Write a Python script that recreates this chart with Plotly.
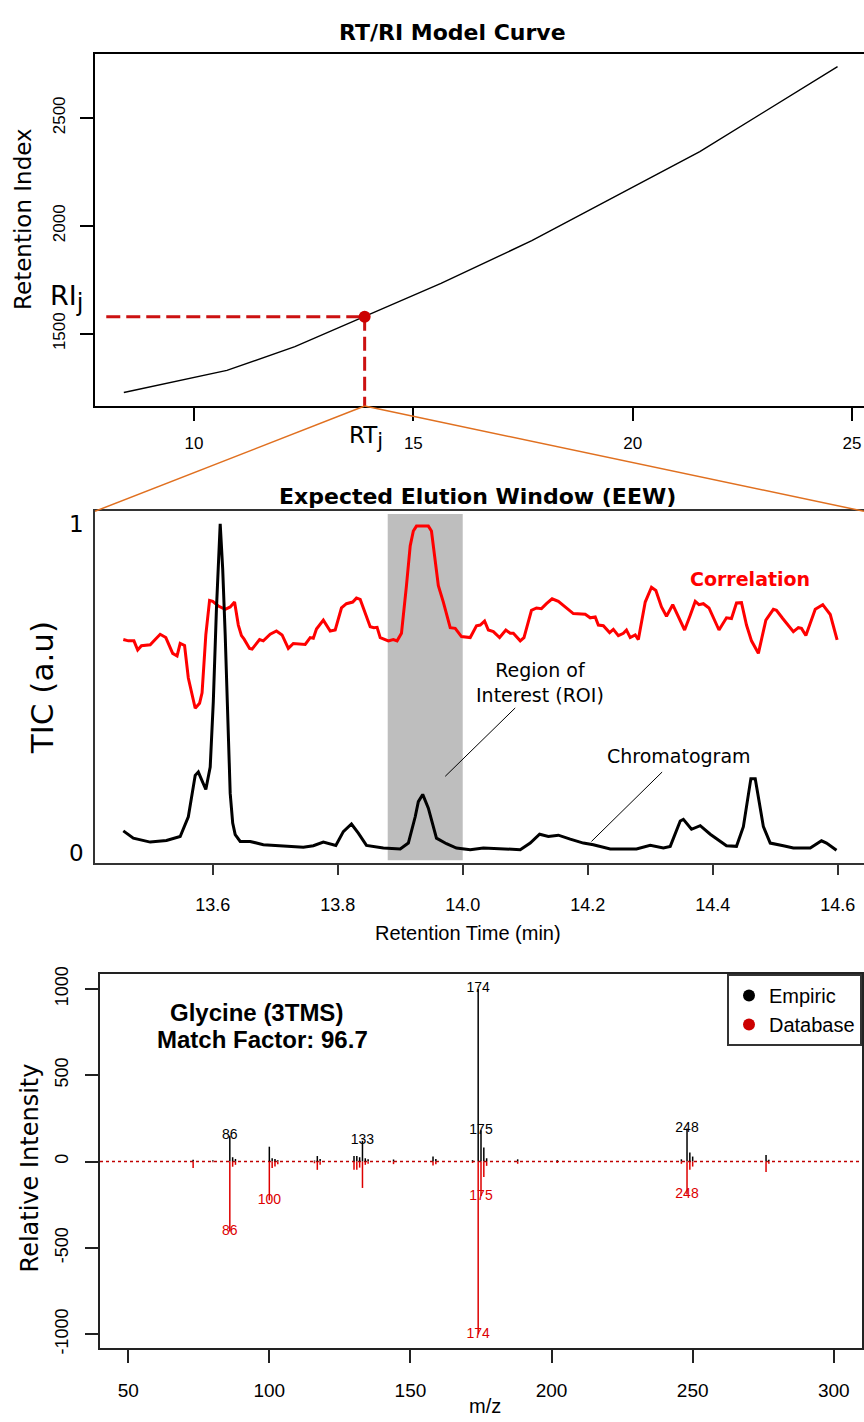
import plotly.graph_objects as go

W, H = 864, 1422

# ---------------- RT/RI model curve ----------------
rt_model = [8.40, 10.75, 12.30, 13.89, 15.63, 17.70, 19.77, 21.53, 24.67]
ri_model = [1228, 1330, 1440, 1579, 1733, 1931, 2153, 2344, 2737]
rt_j = 13.89
ri_j = 1579

# ---------------- Expected elution window ----------------
tic_time = [
    13.457, 13.473, 13.500, 13.526, 13.548, 13.561, 13.572, 13.577, 13.589, 13.596,
    13.601, 13.606, 13.612, 13.616, 13.620, 13.624, 13.628, 13.632, 13.636, 13.644,
    13.660, 13.681, 13.713, 13.745, 13.761, 13.777, 13.797, 13.809, 13.822, 13.833,
    13.846, 13.873, 13.900, 13.913, 13.924, 13.929, 13.936, 13.945, 13.958, 13.974,
    13.990, 14.012, 14.033, 14.060, 14.092, 14.108, 14.123, 14.137, 14.153, 14.172,
    14.193, 14.209, 14.236, 14.278, 14.300, 14.321, 14.332, 14.348, 14.353, 14.366,
    14.380, 14.396, 14.422, 14.438, 14.449, 14.461, 14.468, 14.481, 14.492, 14.513,
    14.529, 14.556, 14.574, 14.582, 14.598,
]
tic_value = [
    0.066, 0.044, 0.032, 0.037, 0.049, 0.109, 0.235, 0.245, 0.192, 0.260,
    0.460, 0.742, 1.000, 0.862, 0.662, 0.450, 0.180, 0.090, 0.055, 0.034,
    0.034, 0.024, 0.021, 0.016, 0.021, 0.032, 0.022, 0.064, 0.087, 0.059,
    0.022, 0.014, 0.011, 0.029, 0.109, 0.155, 0.177, 0.135, 0.044, 0.027,
    0.014, 0.009, 0.014, 0.011, 0.009, 0.029, 0.056, 0.049, 0.053, 0.041,
    0.029, 0.024, 0.011, 0.011, 0.022, 0.014, 0.019, 0.096, 0.101, 0.071,
    0.082, 0.056, 0.021, 0.019, 0.079, 0.225, 0.225, 0.079, 0.029, 0.021,
    0.014, 0.014, 0.036, 0.029, 0.007,
]
corr_time = [
    13.457, 13.465, 13.474, 13.480, 13.486, 13.500, 13.508, 13.516, 13.525, 13.536,
    13.543, 13.548, 13.555, 13.561, 13.572, 13.579, 13.583, 13.589, 13.595, 13.600,
    13.609, 13.620, 13.628, 13.635, 13.641, 13.646, 13.650, 13.659, 13.663, 13.675,
    13.681, 13.692, 13.702, 13.711, 13.721, 13.729, 13.748, 13.756, 13.761, 13.766,
    13.777, 13.788, 13.796, 13.806, 13.814, 13.824, 13.830, 13.836, 13.852, 13.858,
    13.863, 13.868, 13.881, 13.889, 13.895, 13.902, 13.910, 13.916, 13.921, 13.926,
    13.945, 13.950, 13.961, 13.969, 13.980, 13.988, 13.998, 14.012, 14.022, 14.028,
    14.035, 14.041, 14.049, 14.059, 14.069, 14.076, 14.081, 14.092, 14.098, 14.110,
    14.118, 14.126, 14.134, 14.143, 14.153, 14.164, 14.177, 14.196, 14.204, 14.212,
    14.217, 14.225, 14.235, 14.241, 14.249, 14.257, 14.262, 14.268, 14.276, 14.281,
    14.292, 14.302, 14.309, 14.318, 14.326, 14.336, 14.345, 14.355, 14.364, 14.372,
    14.378, 14.385, 14.394, 14.403, 14.410, 14.422, 14.430, 14.438, 14.446, 14.454,
    14.462, 14.473, 14.485, 14.497, 14.502, 14.512, 14.529, 14.537, 14.542, 14.549,
    14.564, 14.576, 14.588, 14.599,
]
corr_value = [
    0.648, 0.644, 0.644, 0.616, 0.629, 0.632, 0.648, 0.664, 0.654, 0.606,
    0.598, 0.636, 0.630, 0.531, 0.439, 0.454, 0.486, 0.662, 0.767, 0.764,
    0.750, 0.740, 0.747, 0.762, 0.692, 0.660, 0.650, 0.621, 0.619, 0.648,
    0.644, 0.664, 0.674, 0.662, 0.621, 0.636, 0.633, 0.654, 0.652, 0.680,
    0.707, 0.674, 0.677, 0.744, 0.757, 0.762, 0.774, 0.770, 0.687, 0.684,
    0.685, 0.654, 0.644, 0.648, 0.644, 0.667, 0.812, 0.933, 0.978, 0.993,
    0.993, 0.978, 0.812, 0.762, 0.684, 0.682, 0.657, 0.654, 0.690, 0.692,
    0.704, 0.677, 0.672, 0.654, 0.677, 0.667, 0.667, 0.644, 0.654, 0.737,
    0.744, 0.742, 0.757, 0.772, 0.764, 0.747, 0.727, 0.725, 0.714, 0.717,
    0.692, 0.690, 0.669, 0.679, 0.660, 0.667, 0.677, 0.654, 0.662, 0.648,
    0.762, 0.807, 0.797, 0.747, 0.719, 0.754, 0.717, 0.677, 0.722, 0.764,
    0.754, 0.757, 0.744, 0.707, 0.677, 0.714, 0.712, 0.759, 0.760, 0.692,
    0.644, 0.606, 0.707, 0.740, 0.737, 0.712, 0.672, 0.684, 0.682, 0.660,
    0.740, 0.754, 0.724, 0.647,
]
roi_start, roi_end = 13.88, 14.00
eew_ticks = [13.6, 13.8, 14.0, 14.2, 14.4, 14.6]

# ---------------- Mass spectrum (empiric vs database) ----------------
mz = [73, 80, 86, 87, 88, 100, 101, 102, 103, 116, 117, 118, 130, 131, 132, 133, 134,
      135, 144, 158, 159, 172, 174, 175, 176, 177, 188, 202, 246, 248, 249, 250, 276, 277]
empiric = [10, 8, 149, 25, 15, 86, 19, 15, 8, 6, 32, 15, 32, 32, 25, 120, 19,
           13, 12, 29, 15, 8, 1000, 182, 82, 19, 13, 8, 13, 191, 52, 29, 38, 10]
database = [38, 4, 405, 30, 19, 225, 38, 29, 15, 10, 48, 19, 48, 48, 35, 153, 19,
            13, 15, 23, 15, 8, 1000, 200, 90, 25, 13, 8, 13, 191, 48, 29, 61, 13]
compound = "Glycine (3TMS)"
match_factor = 96.7
n_labels = 5

# ---------------- geometry (pixels) ----------------
def fx(p):
    return p / W

def fy(p):
    return 1 - p / H

RS = "Liberation Sans, Arial, Helvetica, sans-serif"
DV = "DejaVu Sans, Verdana, sans-serif"

top_xr, top_yr = [7.743, 25.273], [1165, 2798]
top_dx, top_dy = [fx(95), 1.0], [fy(402), fy(46)]
mid_xr, mid_yr = [13.4117, 14.642], [-0.031, 1.038]
mid_dx, mid_dy = [fx(95), 1.0], [fy(863.3), fy(508.3)]
bot_xr, bot_yr = [40, 310], [-1080, 1086]
bot_dx, bot_dy = [fx(100), fx(862)], [fy(1353.3), fy(975.7)]

fig = go.Figure()

# Top panel: model curve
fig.add_trace(go.Scatter(x=rt_model, y=ri_model, mode="lines",
                         line=dict(color="black", width=1.4),
                         xaxis="x", yaxis="y", showlegend=False))
fig.add_trace(go.Scatter(x=[8.0, rt_j], y=[ri_j, ri_j], mode="lines",
                         line=dict(color="#CC1111", width=3, dash="14px,6px"),
                         xaxis="x", yaxis="y", showlegend=False))
fig.add_trace(go.Scatter(x=[rt_j, rt_j], y=[ri_j, top_yr[0]], mode="lines",
                         line=dict(color="#CC1111", width=3, dash="14px,6px"),
                         xaxis="x", yaxis="y", showlegend=False, cliponaxis=False))
fig.add_trace(go.Scatter(x=[rt_j], y=[ri_j], mode="markers",
                         marker=dict(color="#CC0000", size=12),
                         xaxis="x", yaxis="y", showlegend=False))

# Middle panel: correlation and chromatogram
fig.add_trace(go.Scatter(x=corr_time, y=corr_value, mode="lines",
                         line=dict(color="#FF0000", width=3),
                         xaxis="x2", yaxis="y2", showlegend=False))
fig.add_trace(go.Scatter(x=tic_time, y=tic_value, mode="lines",
                         line=dict(color="black", width=3),
                         xaxis="x2", yaxis="y2", showlegend=False))

# Bottom panel: mirrored stick spectrum
fig.add_trace(go.Scatter(x=bot_xr, y=[0, 0], mode="lines",
                         line=dict(color="#C00000", width=1.5, dash="dot"),
                         xaxis="x3", yaxis="y3", showlegend=False))


def sticks(xs, ys):
    sx, sy = [], []
    for xv, yv in zip(xs, ys):
        sx += [xv, xv, None]
        sy += [0, yv, None]
    return sx, sy


ex, ey = sticks(mz, empiric)
dx, dy = sticks(mz, [-v for v in database])
fig.add_trace(go.Scatter(x=ex, y=ey, mode="lines", line=dict(color="black", width=1.5),
                         xaxis="x3", yaxis="y3", showlegend=False))
fig.add_trace(go.Scatter(x=dx, y=dy, mode="lines", line=dict(color="#DD0000", width=1.5),
                         xaxis="x3", yaxis="y3", showlegend=False))

top_e = sorted(range(len(mz)), key=lambda i: -empiric[i])[:n_labels]
top_d = sorted(range(len(mz)), key=lambda i: -database[i])[:n_labels]
fig.add_trace(go.Scatter(x=[mz[i] for i in top_e], y=[empiric[i] for i in top_e],
                         mode="text", text=[str(mz[i]) for i in top_e],
                         textposition="middle center", cliponaxis=False,
                         textfont=dict(family=RS, size=14, color="black"),
                         xaxis="x3", yaxis="y3", showlegend=False))
fig.add_trace(go.Scatter(x=[mz[i] for i in top_d], y=[-database[i] for i in top_d],
                         mode="text", text=[str(mz[i]) for i in top_d],
                         textposition="middle center", cliponaxis=False,
                         textfont=dict(family=RS, size=14, color="#DD0000"),
                         xaxis="x3", yaxis="y3", showlegend=False))

fig.add_trace(go.Scatter(x=[None], y=[None], mode="markers", name="Empiric",
                         marker=dict(color="black", size=12), xaxis="x3", yaxis="y3"))
fig.add_trace(go.Scatter(x=[None], y=[None], mode="markers", name="Database",
                         marker=dict(color="#CC0000", size=12), xaxis="x3", yaxis="y3"))

# ---------------- shapes ----------------
rtj_paper = top_dx[0] + (rt_j - top_xr[0]) / (top_xr[1] - top_xr[0]) * (top_dx[1] - top_dx[0])
shapes = [
    dict(type="rect", xref="x2", yref="y2", x0=roi_start, x1=roi_end, y0=-0.023, y1=1.03,
         fillcolor="#BEBEBE", line=dict(width=0), layer="below"),
    dict(type="line", xref="paper", yref="paper", x0=rtj_paper, y0=top_dy[0],
         x1=mid_dx[0], y1=mid_dy[1], line=dict(color="#E07020", width=1.5)),
    dict(type="line", xref="paper", yref="paper", x0=rtj_paper, y0=top_dy[0],
         x1=1.0, y1=mid_dy[1], line=dict(color="#E07020", width=1.5)),
    dict(type="line", xref="x2", yref="y2", x0=14.084, y0=0.44, x1=13.972, y1=0.232,
         line=dict(color="black", width=1)),
    dict(type="line", xref="x2", yref="y2", x0=14.319, y0=0.245, x1=14.206, y1=0.034,
         line=dict(color="black", width=1)),
]


def ann(text, x, y, size, family, color="black", angle=0, **kw):
    return dict(text=text, x=fx(x), y=fy(y), xref="paper", yref="paper",
                showarrow=False, textangle=angle, xanchor="center", yanchor="middle",
                font=dict(family=family, size=size, color=color), **kw)


annotations = [
    ann("<b>RT/RI Model Curve</b>", 452, 25, 22, DV),
    ann("Retention Index", 23, 213, 23, DV, angle=-90),
    ann("RI<sub><span style='font-size:24px'>j</span></sub>", 66, 293, 27, DV),
    ann("RT<sub><span style='font-size:21px'>j</span></sub>", 366, 434, 23, DV),
    ann("<b>Expected Elution Window (EEW)</b>", 478, 493, 22, DV),
    ann("TIC (a.u)", 42, 687, 31, DV, angle=-90),
    ann("<b>Correlation</b>", 750, 577, 19, DV, color="#FF0000"),
    ann("Region of<br>Interest (ROI)", 540, 681, 19, DV),
    ann("Chromatogram", 679, 755, 19, DV),
    ann("Retention Time (min)", 468, 934, 20, RS),
    ann("<b>%s</b>" % compound, 256, 1014, 24, RS),
    ann("<b>Match Factor: %.1f</b>" % match_factor, 262, 1042, 24, RS),
    ann("Relative Intensity", 30, 1172, 24, DV, angle=-90),
    ann("m/z", 485, 1412, 20, RS),
]

axis_common = dict(showgrid=False, zeroline=False, showline=True, ticks="outside")

bot_yticks = [-1000, -500, 0, 500, 1000]

fig.update_layout(
    width=W, height=H,
    margin=dict(l=0, r=0, t=0, b=0),
    paper_bgcolor="white", plot_bgcolor="white",
    shapes=shapes, annotations=annotations,
    xaxis=dict(axis_common, domain=top_dx, range=top_xr, anchor="y",
               tickvals=[10, 15, 20, 25], ticklen=13, tickwidth=1.5, linewidth=2,
               linecolor="black", tickcolor="black", mirror=True,
               tickfont=dict(family=RS, size=17, color="black"), ticklabelstandoff=8),
    yaxis=dict(axis_common, domain=top_dy, range=top_yr, anchor="x",
               tickvals=[1500, 2000, 2500], ticklen=13, tickwidth=1.5, linewidth=2,
               linecolor="black", tickcolor="black", tickangle=-90,
               tickfont=dict(family=RS, size=17, color="black"), ticklabelstandoff=8),
    xaxis2=dict(axis_common, domain=mid_dx, range=mid_xr, anchor="y2",
                tickvals=eew_ticks, ticktext=["%.1f" % t for t in eew_ticks],
                ticklen=10, tickwidth=1.5, linewidth=1.5, linecolor="#333",
                tickcolor="#333", mirror=True,
                tickfont=dict(family=RS, size=18, color="black"), ticklabelstandoff=15),
    yaxis2=dict(axis_common, domain=mid_dy, range=mid_yr, anchor="x2",
                tickvals=[0, 1], ticks="", linewidth=1.5, linecolor="#333",
                tickfont=dict(family=DV, size=23, color="black"), ticklabelstandoff=5),
    xaxis3=dict(axis_common, domain=bot_dx, range=bot_xr, anchor="y3",
                tickvals=[50, 100, 150, 200, 250, 300], ticklen=13, tickwidth=1.5,
                linewidth=2, linecolor="#222", tickcolor="#222", mirror=True,
                tickfont=dict(family=RS, size=19, color="black"), ticklabelstandoff=11),
    yaxis3=dict(axis_common, domain=bot_dy, range=bot_yr, anchor="x3",
                tickvals=bot_yticks, ticktext=[str(v) for v in bot_yticks],
                ticklen=13, tickwidth=1.5, linewidth=2, linecolor="#222",
                tickcolor="#222", mirror=True, tickangle=-90,
                tickfont=dict(family=RS, size=18, color="black"), ticklabelstandoff=10),
    legend=dict(x=fx(862), y=fy(975.7), xanchor="right", yanchor="top",
                bgcolor="white", bordercolor="#333", borderwidth=2,
                font=dict(family=RS, size=20, color="black"),
                itemsizing="constant", tracegroupgap=0),
    showlegend=True,
)

fig.write_html("out.html")
